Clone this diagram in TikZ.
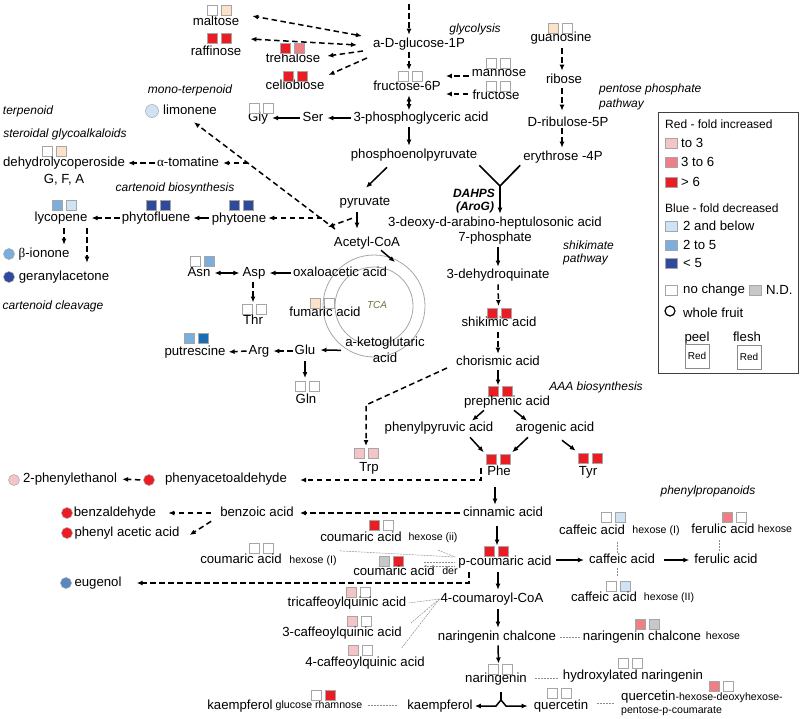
\documentclass[tikz,border=0pt]{standalone}
\usepackage{fontspec}
\setmainfont{Liberation Sans}
\newfontfamily\grk{Liberation Serif}
\usetikzlibrary{arrows.meta}
\definecolor{cPeach}{HTML}{FCE2C6}
\definecolor{cPink}{HTML}{F4C4C6}
\definecolor{cSalmon}{HTML}{EF7F87}
\definecolor{cRed}{HTML}{EC1C24}
\definecolor{cLBlue}{HTML}{CFE3F4}
\definecolor{cMBlue}{HTML}{7AAEDD}
\definecolor{cDBlue}{HTML}{2E4A9C}
\definecolor{cSBlue}{HTML}{1B6DB3}
\definecolor{cND}{HTML}{C6C8CA}
\definecolor{cEug}{HTML}{5A87BD}
\definecolor{cTCA}{HTML}{6F6F3A}
\newcommand\fMain{\fontsize{13.2}{15}\selectfont}
\newcommand\fItal{\fontsize{12}{14}\selectfont\itshape}
\newcommand\fSmall{\fontsize{10.6}{12}\selectfont}
\newcommand\fLegH{\fontsize{12}{14}\selectfont}
\newcommand\fDah{\fontsize{12}{14}\selectfont\bfseries\itshape}
\newcommand\fTCA{\fontsize{10}{12}\selectfont\itshape}
\newcommand\fTiny{\fontsize{10}{12}\selectfont}
\newcommand\twosq[5]{%
  \coordinate (#1) at (#2,#3);
  \node[sqb,fill=#4] (#1-a) at ({#2-7},#3) {};
  \node[sqb,fill=#5] (#1-b) at ({#2+7},#3) {};
}
\begin{document}
\begin{tikzpicture}[x=1pt,y=-1pt,
  >={Latex[length=6pt,width=5pt]},
  lbl/.style={font=\fMain, inner sep=1pt, text height=9.5pt, text depth=2.7pt},
  itl/.style={font=\fItal, inner sep=1pt, text height=8.7pt, text depth=2.5pt},
  sml/.style={font=\fSmall, inner sep=1pt, text height=7.7pt, text depth=2.2pt},
  sqb/.style={minimum width=10pt, minimum height=10pt, inner sep=0pt, draw=black!35, line width=0.6pt},
  lsq/.style={minimum width=12pt, minimum height=10pt, inner sep=0pt, draw=black!35, line width=0.6pt},
  dot/.style={circle, minimum size=11pt, inner sep=0pt, draw=black!35, line width=0.5pt},
  arr/.style={->, line width=1.5pt},
  darr/.style={->, line width=1.5pt, dash pattern=on 5.5pt off 3.5pt},
  dbl/.style={<->, line width=1.5pt},
  ddbl/.style={<->, line width=1.5pt, dash pattern=on 5.5pt off 3.5pt},
  gdash/.style={draw=black!45, line width=0.5pt, dash pattern=on 2pt off 1pt},
  lgh/.style={font=\fLegH, inner sep=1pt, anchor=west},
  lgt/.style={font=\fMain, inner sep=1pt, anchor=west}
]
\useasboundingbox (0,0) rectangle (800,718);

% ---------------- TCA circles
\coordinate (tcac) at (374,306);
\draw[black!35, line width=0.8pt] (tcac) circle[radius=51pt];
\draw[black!35, line width=0.8pt] (tcac) circle[radius=39pt];
\node[font=\fTCA, text=cTCA, inner sep=1pt] (tca) at (377,305) {TCA};

% ---------------- top: sugars and glycolysis
\coordinate (topin) at (409,4);
\node[lbl] (glc) at (419,44) {a-D-glucose-1P};
\node[itl] (glyco) at (475,29) {glycolysis};
\node[lbl] (malt) at (216,22) {maltose};
\node[lbl] (raff) at (216,52) {raffinose};
\node[lbl] (treh) at (293,59) {trehalose};
\node[lbl] (cello) at (295,86) {cellobiose};
\node[lbl] (f6p) at (407,87) {fructose-6P};
\node[lbl] (mann) at (499,73) {mannose};
\node[lbl] (fruc) at (496,96) {fructose};
\node[lbl] (pga) at (421,118) {3-phosphoglyceric acid};
\node[lbl] (ser) at (313,118) {Ser};
\node[lbl] (gly) at (258,118) {Gly};
\node[lbl] (pep) at (414,155) {phosphoenolpyruvate};
\twosq{maltsq}{219.5}{10}{white}{cPeach}
\twosq{raffsq}{219.5}{38}{cRed}{cRed}
\twosq{trehsq}{292.5}{48.5}{cRed}{cSalmon}
\twosq{cellosq}{295}{76}{cRed}{cRed}
\twosq{f6psq}{410}{76.5}{white}{white}
\twosq{mannsq}{498}{63}{white}{white}
\twosq{frucsq}{498}{86.5}{white}{white}
\twosq{glysq}{261}{108}{white}{white}

\draw[darr, shorten >=2pt] (topin) -- (topin |- glc.north);
\draw[darr, shorten <=1pt, shorten >=6.5pt] (topin |- glc.south) -- (topin |- f6psq);
\draw[dbl, shorten <=1pt, shorten >=0.5pt] (topin |- f6p.south) -- (topin |- pga.north);
\draw[arr, shorten <=2pt, shorten >=2pt] (topin |- pga.south) -- (topin |- pep.north);
\draw[arr, shorten >=3pt, shorten <=1pt] (pga.west) -- (ser.east);
\draw[arr, shorten >=3pt, shorten <=2pt] (ser.west) -- (gly.east);
\draw[darr] ([shift={(-2,3)}]mann.west) -- ([shift={(4,-11)}]f6p.east);
\draw[darr] ([shift={(-3,-2)}]fruc.west) -- ([shift={(4,7)}]f6p.east);
\draw[ddbl] ([shift={(-10,-8)}]glc.west) -- ([shift={(12,-6)}]malt.east);
\draw[ddbl] ([shift={(-15,1)}]glc.west) -- ([shift={(8,-13)}]raff.east);
\draw[darr] ([shift={(-9,7)}]glc.west) -- ([shift={(6,-3)}]treh.east);
\draw[darr] ([shift={(-5,14)}]glc.west) -- ([shift={(3,-11)}]cello.east);

% ---------------- pentose phosphate
\node[lbl] (guan) at (561,38) {guanosine};
\node[lbl] (ribo) at (564,80) {ribose};
\node[lbl] (ru5p) at (568,123) {D-ribulose-5P};
\node[lbl] (e4p) at (563,157) {erythrose -4P};
\node[itl, anchor=west] (ppp1) at (598,89) {pentose phosphate};
\node[itl, anchor=west] (ppp2) at (598,104) {pathway};
\twosq{guansq}{560}{28}{cPeach}{white}
\draw[darr] ([shift={(1,3)}]guan.south) -- ([shift={(-2,-2)}]ribo.north);
\draw[darr] ([shift={(-2,1)}]ribo.south) -- ([shift={(-6,-5)}]ru5p.north);
\draw[darr] ([shift={(-6,-2)}]ru5p.south) -- ([shift={(-1,-2)}]e4p.north);

% ---------------- shikimate
\coordinate (yj) at (500,186);
\node[lbl] (dahp) at (495,223) {3-deoxy-d-arabino-heptulosonic acid};
\node[lbl] (dahp7) at (495,238) {7-phosphate};
\node[font=\fDah, inner sep=1pt] (dahps) at (474,193) {DAHPS};
\node[font=\fDah, inner sep=1pt] (aroG) at (475,207) {(AroG)};
\node[itl, anchor=west] (shk1) at (562,246) {shikimate};
\node[itl, anchor=west] (shk2) at (562,259) {pathway};
\node[lbl] (dhq) at (498,275) {3-dehydroquinate};
\twosq{shiksq}{499.5}{313}{cRed}{cRed}
\node[lbl] (shik) at (499,323) {shikimic acid};
\node[lbl] (chor) at (498,362) {chorismic acid};
\twosq{prephsq}{500}{391.5}{cRed}{cRed}
\node[lbl] (preph) at (507,402) {prephenic acid};
\node[itl] (aaa) at (596,387) {AAA biosynthesis};
\node[lbl] (ppa) at (439,428) {phenylpyruvic acid};
\node[lbl] (arogn) at (555,428) {arogenic acid};
\twosq{phesq}{498}{459.5}{cRed}{cRed}
\node[lbl] (phe) at (499,472) {Phe};
\twosq{tyrsq}{590}{458}{cRed}{cRed}
\node[lbl] (tyr) at (588,472) {Tyr};
\twosq{trpsq}{366.5}{453}{cPink}{cPink}
\node[lbl] (trp) at (369,468) {Trp};
\coordinate (trpbend) at (366,405);

\draw[line width=1.7pt] ([shift={(1,3)}]pep.south east) -- (yj) -- ([shift={(-2,1)}]e4p.south west);
\draw[arr, shorten >=2pt] (yj) -- (yj |- dahp.north);
\draw[arr] ([shift={(3,2)}]dahp7.south) -- ([shift={(0,-1)}]dhq.north);
\draw[darr] ([shift={(0,2)}]dhq.south) -- ([shift={(-1,-7)}]shiksq);
\draw[darr] ([shift={(-1,2)}]shik.south) -- ([shift={(0,-1)}]chor.north);
\draw[arr] ([shift={(0,1)}]chor.south) -- ([shift={(-2,-6)}]prephsq);
\draw[arr] ([shift={(-23,1)}]preph.south) -- ([shift={(33,0)}]ppa.north);
\draw[arr] ([shift={(7,1)}]preph.south) -- ([shift={(-28,0)}]arogn.north);
\draw[arr] ([shift={(31,2)}]ppa.south) -- ([shift={(-2,-2)}]phesq-a.north west);
\draw[arr] ([shift={(-27,2)}]arogn.south) -- ([shift={(2,-2)}]phesq-b.north east);
\draw[arr] ([shift={(7,5)}]arogn.south) -- ([shift={(-2,-2)}]tyrsq-a.north west);
\draw[darr] ([shift={(-8,6)}]chor.west) -- (trpbend) -- ([shift={(-0.5,-7)}]trpsq);

% ---------------- terpenoids / carotenoids
\node[itl] (monot) at (190,90) {mono-terpenoid};
\node[dot, fill=cLBlue, minimum size=13pt] (limoc) at (152,111) {};
\node[lbl] (limo) at (190,111) {limonene};
\node[itl] (terp) at (28,111) {terpenoid};
\node[itl] (sgk) at (65,134) {steroidal glycoalkaloids};
\twosq{dehysq}{54}{151}{white}{cPeach}
\node[lbl] (dehy) at (64,163) {dehydrolycoperoside};
\node[lbl] (gfa) at (64,180) {G, F, A};
\node[lbl] (toma) at (188,163) {{\grk α}-tomatine};
\node[itl] (cbio) at (175,188) {cartenoid biosynthesis};
\twosq{lycosq}{64.5}{205.5}{cMBlue}{cLBlue}
\node[lbl] (lyco) at (61,218) {lycopene};
\twosq{phflsq}{158}{205.5}{cDBlue}{cDBlue}
\node[lbl] (phfl) at (156,218) {phytofluene};
\twosq{phytsq}{241.5}{205.5}{cDBlue}{cDBlue}
\node[lbl] (phyt) at (239,219) {phytoene};
\node[dot, fill=cMBlue] (bionc) at (9,254) {};
\node[lbl] (bion) at (44,254) {{\grk β}-ionone};
\node[dot, fill=cDBlue] (gerac) at (9,277) {};
\node[lbl] (gera) at (64,277) {geranylacetone};
\node[itl] (cclv) at (53,306) {cartenoid cleavage};

\node[lbl] (pyr) at (365,202) {pyruvate};
\node[lbl] (acoa) at (367,243) {Acetyl-CoA};
\coordinate (jdiag) at (335,229);
\coordinate (d163) at (248,163);
\coordinate (d218) at (322,218);
\coordinate (tcain) at (395,262);

\draw[darr] (jdiag) -- ([shift={(4,4)}]limo.south);
\draw[darr] (d163) -- ([shift={(3,0)}]toma.east);
\draw[darr] ([shift={(-1,0)}]toma.west) -- ([shift={(2,0)}]dehy.east);
\draw[darr] (d218) -- ([shift={(1,-1)}]phyt.east);
\draw[arr, shorten >=2pt] ([shift={(-2,-1)}]phyt.west) -- (phfl.east);
\draw[darr, shorten <=1pt, shorten >=3pt] (phfl.west) -- (lyco.east);
\draw[darr] ([shift={(3,3)}]lyco.south) -- ([shift={(20,-2)}]bion.north);
\draw[darr] ([shift={(26,3)}]lyco.south) -- ([shift={(23,-7)}]gera.north);
\draw[darr] ([shift={(-13,9)}]pyr.south) -- ([shift={(-7,-2)}]jdiag);
\draw[arr] ([shift={(-27,5)}]pep.south) -- ([shift={(1,-7)}]pyr.north);
\draw[arr] ([shift={(-8,3)}]pyr.south) -- ([shift={(-10,-7)}]acoa.north);
\draw[arr] ([shift={(14,0)}]acoa.south) -- (tcain);

% ---------------- amino acids / TCA
\node[lbl] (oaa) at (340,273) {oxaloacetic acid};
\node[lbl] (asp) at (254,273) {Asp};
\node[lbl] (asn) at (199,273) {Asn};
\twosq{asnsq}{202.5}{261}{white}{cMBlue}
\twosq{thrsq}{254.5}{309.5}{white}{white}
\node[lbl] (thr) at (253,321) {Thr};
\twosq{fumsq}{322.5}{303}{cPeach}{white}
\node[lbl] (fum) at (325,313) {fumaric acid};
\node[lbl] (akg) at (385,343) {a-ketoglutaric};
\node[lbl] (akg2) at (385,359) {acid};
\node[lbl] (glu) at (305,351) {Glu};
\node[lbl] (arg) at (259,351) {Arg};
\twosq{putsq}{196}{338}{cMBlue}{cSBlue}
\node[lbl] (put) at (195,352) {putrescine};
\twosq{glnsq}{307}{386}{white}{white}
\node[lbl] (gln) at (306,400) {Gln};

\draw[arr, shorten <=1pt, shorten >=3pt] (oaa.west) -- (asp.east);
\draw[dbl, shorten <=2pt, shorten >=3pt] (asp.west) -- (asn.east);
\draw[darr] ([shift={(-1,2)}]asp.south) -- ([shift={(-1.5,-7)}]thrsq);
\draw[arr] ([shift={(-3,0)}]akg.south west) -- ([shift={(4,-1)}]glu.east);
\draw[darr, shorten <=1pt, shorten >=3pt] (glu.west) -- (arg.east);
\draw[darr, shorten <=1pt, shorten >=2pt] (arg.west) -- (put.east);
\draw[arr] ([shift={(0,3)}]glu.south) -- ([shift={(-2,-8)}]glnsq);

% ---------------- volatiles
\node[dot, fill=cRed] (pacec) at (149,480) {};
\node[lbl] (pace) at (226,479) {phenyacetoaldehyde};
\node[dot, fill=cPink] (pethc) at (14,480) {};
\node[lbl] (peth) at (70,479) {2-phenylethanol};
\node[lbl] (cinn) at (503,513) {cinnamic acid};
\node[lbl] (benz) at (257,513) {benzoic acid};
\node[dot, fill=cRed] (baldc) at (67,513) {};
\node[lbl] (bald) at (115,513) {benzaldehyde};
\node[dot, fill=cRed] (paac) at (67,533) {};
\node[lbl] (paa) at (127,533) {phenyl acetic acid};

\draw[darr] ([shift={(-5,-4)}]phe.west) |- ([shift={(12,1)}]pace.east);
\draw[darr, shorten <=3pt, shorten >=4pt] (pacec.west) -- (peth.east);
\draw[arr] ([shift={(-4,8)}]phe.south) -- ([shift={(-8,-1)}]cinn.north);
\draw[darr, shorten <=2pt, shorten >=5pt] (cinn.west) -- (benz.east);
\draw[darr, shorten <=8pt, shorten >=11pt] (benz.west) -- (bald.east);
\draw[darr] ([shift={(-8,1)}]benz.south west) -- ([shift={(9,2)}]paa.east);

% ---------------- phenylpropanoids
\twosq{pcousq}{496.5}{551.5}{cRed}{cRed}
\node[lbl] (pcou) at (505,562) {p-coumaric acid};
\twosq{cou2sq}{381}{525.5}{cRed}{white}
\node[lbl] (cou2) at (361,538) {coumaric acid};
\node[sml] (cou2h) at (433,538) {hexose (ii)};
\twosq{coudsq}{391.5}{561.5}{cND}{cRed}
\node[lbl] (coud) at (394,572) {coumaric acid};
\node[sml] (coudh) at (450,572) {der};
\twosq{cou1sq}{261}{548}{white}{white}
\node[lbl] (cou1) at (241,560) {coumaric acid};
\node[sml] (cou1h) at (313,561) {hexose (I)};
\node[dot, fill=cEug] (eugc) at (66,583) {};
\node[lbl] (eug) at (98,583) {eugenol};
\node[lbl] (caf) at (622,560) {caffeic acid};
\node[lbl] (fer) at (726,560) {ferulic acid};
\twosq{caf1sq}{613.5}{517.5}{white}{cLBlue}
\node[lbl] (caf1) at (592,531) {caffeic acid};
\node[sml] (caf1h) at (656,531) {hexose (I)};
\twosq{fer1sq}{734.5}{517.5}{cSalmon}{white}
\node[lbl] (fer1) at (723,530) {ferulic acid};
\node[sml] (fer1h) at (775,530) {hexose};
\twosq{caf2sq}{618}{586}{white}{cLBlue}
\node[lbl] (caf2) at (604,598) {caffeic acid};
\node[sml] (caf2h) at (669,598) {hexose (II)};
\node[itl] (phprop) at (708,491) {phenylpropanoids};

\draw[arr] ([shift={(-6,6)}]cinn.south) -- ([shift={(0.5,-6)}]pcousq);
\draw[gdash] ([shift={(5,6)}]cou2h.south) -- ([shift={(-2,-5)}]pcou.west);
\draw[gdash] ([shift={(2,-4)}]cou1h.north east) -- ([shift={(-2,-5)}]pcou.west);
\draw[gdash] ([shift={(20,1)}]coudsq-b.east) -- ([shift={(-2,0.5)}]pcou.west);
\draw[gdash] ([shift={(20,4.5)}]coudsq-b.east) -- ([shift={(-2,4)}]pcou.west);
\draw[darr] ([shift={(-36,3)}]pcou.south) |- ([shift={(14,0)}]eug.east);
\draw[arr] ([shift={(3,-2)}]pcou.east) -- ([shift={(-4,0)}]caf.west);
\draw[arr] ([shift={(8,0)}]caf.east) -- ([shift={(-4,0)}]fer.west);
\draw[gdash] ([shift={(25,4)}]caf1.south) -- ([shift={(-5,0)}]caf.north);
\draw[gdash] ([shift={(-4,3)}]fer1.south) -- ([shift={(-7,-1)}]fer.north);
\draw[gdash] ([shift={(-5,1)}]caf.south) -- ([shift={(-1,-9)}]caf2sq);

% ---------------- flavonoids
\node[lbl] (ccoa) at (492,599) {4-coumaroyl-CoA};
\twosq{tcqsq}{358.5}{592}{cPink}{white}
\node[lbl] (tcq) at (347,603) {tricaffeoylquinic acid};
\twosq{cq3sq}{359.5}{621.5}{cPink}{white}
\node[lbl] (cq3) at (342,633) {3-caffeoylquinic acid};
\twosq{cq4sq}{360}{650.5}{cPink}{white}
\node[lbl] (cq4) at (365,663) {4-caffeoylquinic acid};
\node[lbl] (nch) at (497,637) {naringenin chalcone};
\node[lbl] (nchh) at (642,637) {naringenin chalcone};
\node[sml] (nchhh) at (723,637) {hexose};
\twosq{nchhsq}{647}{624}{cSalmon}{cND}
\twosq{narsq}{500.5}{669.5}{white}{white}
\node[lbl] (nar) at (496,679) {naringenin};
\node[lbl] (hnar) at (633,676) {hydroxylated naringenin};
\twosq{hnarsq}{630}{663.5}{white}{white}
\node[lbl] (kae) at (440,706) {kaempferol};
\node[lbl] (que) at (561,706) {quercetin};
\twosq{quesq}{559}{693.5}{white}{white}
\node[lbl] (kgr) at (240,706) {kaempferol};
\node[sml] (kgrh) at (319,706) {glucose rhamnose};
\twosq{kgrsq}{323.5}{695}{white}{cRed}
\node[lbl, anchor=west] (qh) at (620,697) {quercetin{\fSmall -hexose-deoxyhexose-}};
\node[sml, anchor=west] (qh2) at (620,711) {pentose-p-coumarate};
\twosq{qhsq}{721.5}{686}{cSalmon}{white}
\coordinate (naj) at (501,700);

\draw[arr] ([shift={(-7,3)}]pcou.south) -- ([shift={(6,-2)}]ccoa.north);
\draw[gdash] (ccoa.west) -- ([shift={(1,0)}]tcq.east);
\draw[gdash] (ccoa.west) -- ([shift={(8,-10)}]cq3.east);
\draw[gdash] (ccoa.west) -- ([shift={(-24,-8)}]cq4.north east);
\draw[arr] ([shift={(6,3)}]ccoa.south) -- ([shift={(1,-2)}]nch.north);
\draw[gdash] ([shift={(3,0)}]nch.east) -- ([shift={(-2,0)}]nchh.west);
\draw[arr] ([shift={(1,1)}]nch.south) -- ([shift={(-2,-6)}]narsq);
\draw[gdash] ([shift={(7,-1)}]nar.east) -- ([shift={(-4,2)}]hnar.west);
\draw[line width=1.5pt] ([shift={(5,6)}]nar.south) -- (naj);
\draw[dbl] ([shift={(1,0)}]kae.east) -- ([shift={(-5,6)}]naj) -- (naj) -- ([shift={(5,6)}]naj) -- ([shift={(-5,0)}]que.west);
\draw[gdash] ([shift={(4,-1)}]kgrh.east) -- ([shift={(-9,-1)}]kae.west);
\draw[gdash] ([shift={(8,-3)}]que.east) -- ([shift={(-5,6)}]qh.west);

% ---------------- legend
\node[draw=black!75, line width=1.2pt, minimum width=140pt, minimum height=261pt, inner sep=0pt, anchor=north west] (leg) at (658,112) {};
\node[lgh] (lgred) at (664,124) {Red - fold increased};
\node[lsq, fill=cPink] (lg1) at (671,143) {};
\node[lgt] (lg1t) at (680,143) {to 3};
\node[lsq, fill=cSalmon] (lg2) at (671,162) {};
\node[lgt] (lg2t) at (680,162) {3 to 6};
\node[lsq, fill=cRed] (lg3) at (671,182) {};
\node[lgt] (lg3t) at (680,182) {> 6};
\node[lgh] (lgblue) at (664,208) {Blue - fold decreased};
\node[lsq, fill=cLBlue] (lg4) at (671,226) {};
\node[lgt] (lg4t) at (682,226) {2 and below};
\node[lsq, fill=cMBlue] (lg5) at (671,245) {};
\node[lgt] (lg5t) at (682,245) {2 to 5};
\node[lsq, fill=cDBlue] (lg6) at (671,263) {};
\node[lgt] (lg6t) at (682,263) {< 5};
\node[lsq, fill=white] (lg7) at (671,290) {};
\node[lgt] (lg7t) at (682,290) {no change};
\node[lsq, fill=cND] (lg8) at (755.5,290) {};
\node[lgt] (lg8t) at (765,290) {N.D.};
\node[circle, draw, line width=1.2pt, minimum size=10pt, inner sep=0pt] (lgc) at (670,311) {};
\node[lgt] (lgct) at (682,313) {whole fruit};
\node[lbl] (lgpeel) at (697,338) {peel};
\node[lbl] (lgflesh) at (747,338) {flesh};
\node[draw=black!45, line width=1pt, minimum size=24pt, inner sep=0pt, font=\fTiny] (lgp) at (697,356) {Red};
\node[draw=black!45, line width=1pt, minimum size=24pt, inner sep=0pt, font=\fTiny] (lgf) at (749,357) {Red};
\end{tikzpicture}
\end{document}
